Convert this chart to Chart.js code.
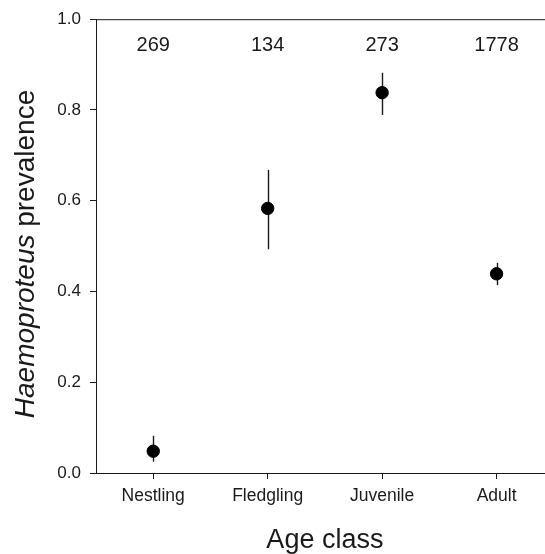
<!DOCTYPE html>
<html>
<head>
<meta charset="utf-8">
<script src="https://cdn.jsdelivr.net/npm/chart.js@4"></script>
<style>
html,body{margin:0;padding:0;background:#fff;overflow:hidden;}
#wrap{width:545px;height:554px;overflow:hidden;}
</style>
</head>
<body>
<div id="wrap"><canvas id="c" width="561" height="554"></canvas></div>
<script>
const categories = ["Nestling", "Fledgling", "Juvenile", "Adult"];
const prevalence = [0.048, 0.583, 0.838, 0.439];
const ciLower = [0.025, 0.493, 0.789, 0.414];
const ciUpper = [0.082, 0.668, 0.882, 0.463];
const sampleSizes = [269, 134, 273, 1778];
const yTicks = [0.0, 0.2, 0.4, 0.6, 0.8, 1.0];

const FONT = "'Liberation Sans', Arial, Helvetica, sans-serif";
const INK = "#1a1a1a";

const points = categories.map((c, i) => ({x: i + 1, y: prevalence[i]}));

const extras = {
  id: 'extras',
  beforeDatasetsDraw(chart) {
    const ctx = chart.ctx, xs = chart.scales.x, ys = chart.scales.y;
    ctx.save();
    ctx.strokeStyle = INK;
    ctx.lineWidth = 1.4;
    categories.forEach((c, i) => {
      const px = Math.round(xs.getPixelForValue(i + 1)) + 0.5;
      ctx.beginPath();
      ctx.moveTo(px, ys.getPixelForValue(ciLower[i]));
      ctx.lineTo(px, ys.getPixelForValue(ciUpper[i]));
      ctx.stroke();
    });
    ctx.restore();
  },
  afterDraw(chart) {
    const ctx = chart.ctx, xs = chart.scales.x, ys = chart.scales.y, a = chart.chartArea;
    ctx.save();
    ctx.strokeStyle = INK;
    ctx.lineWidth = 1;
    ctx.beginPath();
    ctx.moveTo(a.left, a.top + 0.5);
    ctx.lineTo(a.right, a.top + 0.5);
    ctx.lineTo(a.right, a.bottom);
    ctx.stroke();
    ctx.fillStyle = INK;
    ctx.font = "20px " + FONT;
    ctx.textAlign = 'center';
    ctx.textBaseline = 'middle';
    sampleSizes.forEach((n, i) => {
      ctx.fillText(String(n), xs.getPixelForValue(i + 1), ys.getPixelForValue(0.941));
    });
    ctx.font = "27px " + FONT;
    ctx.textBaseline = 'alphabetic';
    ctx.fillText("Age class", (a.left + a.right) / 2, 548);
    ctx.translate(34, 254);
    ctx.rotate(-Math.PI / 2);
    const p1 = "Haemoproteus", p2 = " prevalence";
    ctx.font = "italic 28px " + FONT;
    const w1 = ctx.measureText(p1).width;
    ctx.font = "28px " + FONT;
    const w2 = ctx.measureText(p2).width;
    const start = -(w1 + w2) / 2;
    ctx.textAlign = 'left';
    ctx.font = "italic 28px " + FONT;
    ctx.fillText(p1, start, 0);
    ctx.font = "28px " + FONT;
    ctx.fillText(p2, start + w1, 0);
    ctx.restore();
  }
};

new Chart(document.getElementById('c'), {
  type: 'scatter',
  data: {
    datasets: [{
      data: points,
      backgroundColor: '#000',
      borderColor: '#000',
      pointRadius: 6.2,
      pointHoverRadius: 6.2
    }]
  },
  options: {
    responsive: false,
    animation: false,
    devicePixelRatio: 1,
    layout: {padding: {top: 17, right: 2, left: 0, bottom: 0}},
    plugins: {legend: {display: false}, tooltip: {enabled: false}},
    scales: {
      x: {
        type: 'linear', min: 0.5, max: 4.5,
        afterBuildTicks(s) { s.ticks = categories.map((c, i) => ({value: i + 1})); },
        afterFit(s) { s.height = 81; },
        grid: {drawOnChartArea: false, drawTicks: true, tickLength: 6, tickColor: INK, tickWidth: 1},
        border: {display: true, color: INK, width: 1},
        ticks: {
          color: INK, font: {family: FONT, size: 17.5}, padding: 7,
          maxRotation: 0, autoSkip: false,
          callback: (v) => categories[Math.round(v) - 1]
        }
      },
      y: {
        type: 'linear', min: 0, max: 1,
        afterBuildTicks(s) { s.ticks = yTicks.map(v => ({value: v})); },
        afterFit(s) { s.width = 96; },
        grid: {drawOnChartArea: false, drawTicks: true, tickLength: 6, tickColor: INK, tickWidth: 1},
        border: {display: true, color: INK, width: 1},
        ticks: {
          color: INK, font: {family: FONT, size: 17}, padding: 9,
          callback: (v) => Number(v).toFixed(1)
        }
      }
    }
  },
  plugins: [extras]
});
</script>
</body>
</html>
